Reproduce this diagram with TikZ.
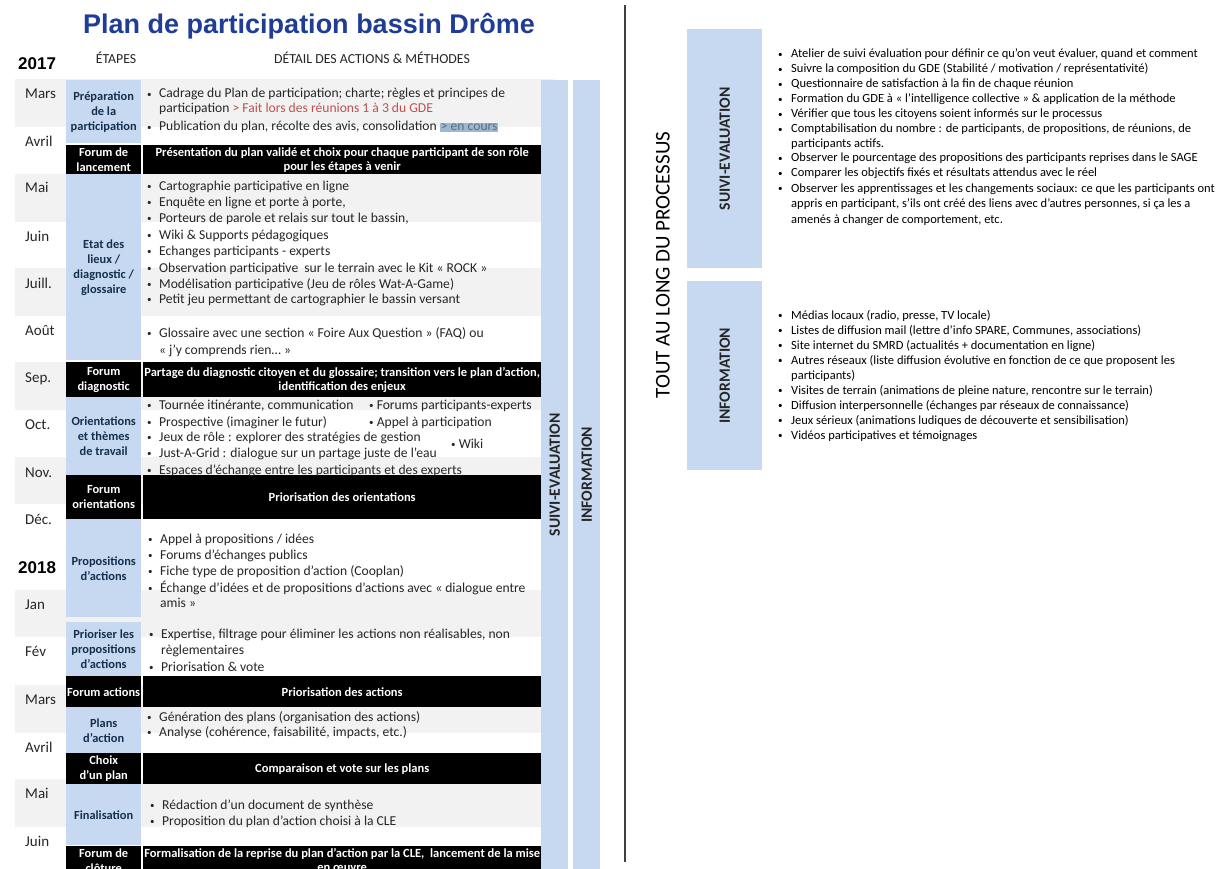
\documentclass[tikz,border=0pt]{standalone}
\usepackage{fontspec}
\setmainfont{Carlito}
\newfontfamily\arialf{Liberation Sans}
\definecolor{lblue}{HTML}{C6D9F1}
\definecolor{bandgray}{HTML}{F2F2F2}
\definecolor{titleblue}{HTML}{1F3C96}
\definecolor{etxt}{HTML}{14304F}
\definecolor{dtxt}{HTML}{262626}
\definecolor{redtxt}{HTML}{C0504D}
\definecolor{hlbg}{HTML}{9DB8CF}
\definecolor{hltxt}{HTML}{556F8C}
\definecolor{sepgray}{HTML}{404040}
\newcommand\fsz[2]{\fontsize{#1}{#2}\selectfont}
\newcommand\sbul{\raisebox{0.6pt}{\fontsize{9}{9}\selectfont\textbullet}}
\newcommand\bl{\makebox[12pt][l]{\sbul}}
\newcommand\rbl{\makebox[13pt][l]{\sbul}}
\tikzset{
  etape/.style={fill=lblue, text=etxt, font=\bfseries\fsz{12.4}{15}, align=center, inner sep=0pt, anchor=north west, minimum width=75pt},
  forumE/.style={fill=black, text=white, font=\bfseries\fsz{12.4}{15}, align=center, inner sep=0pt, anchor=north west, minimum width=75pt},
  bar/.style={fill=black, text=white, font=\bfseries\fsz{12.5}{14}, align=center, inner sep=0pt, anchor=north west, minimum width=398pt},
  month/.style={anchor=base west, font=\fsz{15}{17}, text=dtxt, inner sep=0pt},
  year/.style={anchor=base west, font=\arialf\bfseries\fsz{17}{20}, text=black, inner sep=0pt},
  item/.style={anchor=base west, font=\fsz{13.6}{15}, text=dtxt, inner sep=0pt},
  ritem/.style={anchor=base west, font=\fsz{12.5}{14}, text=black, inner sep=0pt},
  col/.style={fill=lblue, draw=none, inner sep=0pt, anchor=north west, minimum width=27pt},
  vtext/.style={rotate=90, font=\bfseries\fsz{15.7}{18}, text=dtxt, inner sep=0pt},
  head/.style={anchor=base, font=\fsz{13.8}{15}, text=dtxt, inner sep=0pt}
}
\begin{document}
\begin{tikzpicture}[x=1pt,y=-1pt]
\useasboundingbox (0,0) rectangle (1222,869);
\clip (0,0) rectangle (1222,869);
\fill[white] (0,0) rectangle (1222,869);

% title and headers
\node[font=\arialf\bfseries\fsz{27}{30}, text=titleblue, anchor=base, inner sep=0pt] (title) at (309,34) {Plan de participation bassin Drôme};
\node[year] (y2017) at (18,70) {2017};
\node[head] (hetapes) at (116,64) {ÉTAPES};
\node[head] (hdetail) at (372,64) {DÉTAIL DES ACTIONS \& MÉTHODES};

% month bands
\foreach \a/\b in {79/127,174/222,268/316,362/410,457/504,590/637,685/733,779/827}
  \fill[bandgray] (15,\a) rectangle (555,\b);

% long columns
\node[col, minimum height=789pt] (suivicol) at (541,80) {};
\node[col, minimum height=789pt] (infocol) at (573,80) {};
\node[vtext] (suivilbl) at (suivicol.center) {SUIVI-EVALUATION};
\node[vtext] (infolbl) at (infocol.center) {INFORMATION};

% months
\foreach \t/\y [count=\i] in {Mars/99, Avril/147, Mai/193, Juin/241, Juill./288, Août/335, Sep./382, Oct./429, Nov./477, Déc./524, Jan/609, Fév/656, Mars/704, Avril/752, Mai/798, Juin/846}
  \node[month] (m\i) at (25,\y) {\t};
\node[year] (y2018) at (18,573) {2018};

% etapes
\node[etape, minimum height=63pt] (prep) at (66,80) {Préparation\\de la\\participation};
\node[forumE, minimum height=29pt] (flanc) at (66,145) {Forum de\\lancement};
\node[bar, minimum height=29pt] (blanc) at (143,145) {Présentation du plan validé et choix pour chaque participant de son rôle\\pour les étapes à venir};
\node[etape, minimum height=186pt] (etat) at (66,174) {Etat des\\lieux /\\diagnostic /\\glossaire};
\node[forumE, minimum height=35pt] (fdiag) at (66,362) {Forum\\diagnostic};
\node[bar, minimum height=35pt] (bdiag) at (143,362) {Partage du diagnostic citoyen et du glossaire; transition vers le plan d’action,\\identification des enjeux};
\node[etape, minimum height=78pt] (orient) at (66,397) {Orientations\\et thèmes\\de travail};
\node[forumE, minimum height=44pt] (fori) at (66,475) {Forum\\orientations};
\node[bar, minimum height=44pt] (bori) at (143,475) {Priorisation des orientations};
\node[etape, minimum height=98pt] (props) at (66,519) {Propositions\\d’actions};
\node[etape, minimum height=54pt] (prio) at (66,622) {Prioriser les\\propositions\\d’actions};
\node[forumE, minimum height=31pt] (fact) at (66,676) {Forum actions};
\node[bar, minimum height=31pt] (bact) at (143,676) {Priorisation des actions};
\node[etape, minimum height=46pt] (plans) at (66,707) {Plans\\d’action};
\node[forumE, minimum height=31pt] (choix) at (66,753) {Choix\\d’un plan};
\node[bar, minimum height=31pt] (bchoix) at (143,753) {Comparaison et vote sur les plans};
\node[etape, minimum height=61pt] (final) at (66,784) {Finalisation};
\node[forumE, minimum height=28pt] (fclot) at (66,846) {Forum de\\clôture};
\node[bar, minimum height=28pt] (bclot) at (143,846) {Formalisation de la reprise du plan d’action par la CLE,\ \ lancement de la mise\\en œuvre};

% details: preparation
\node[item] (p1) at (147,98) {\bl Cadrage du Plan de participation; charte; règles et principes de};
\node[item] (p1b) at (159,113) {participation {\color{redtxt}> Fait lors des réunions 1 à 3 du GDE}};
\node[item] (p2) at (147,131) {\bl Publication du plan, récolte des avis, consolidation {\setlength\fboxsep{1pt}\colorbox{hlbg}{\color{hltxt}> en cours}}};

% details: etat des lieux
\node[item] (e1) at (147,190) {\bl Cartographie participative en ligne};
\node[item] (e2) at (147,206) {\bl Enquête en ligne et porte à porte,};
\node[item] (e3) at (147,222) {\bl Porteurs de parole et relais sur tout le bassin,};
\node[item] (e4) at (147,239) {\bl Wiki \& Supports pédagogiques};
\node[item] (e5) at (147,255) {\bl Echanges participants - experts};
\node[item] (e6) at (147,272) {\bl Observation participative\ \ sur le terrain avec le Kit « ROCK »};
\node[item] (e7) at (147,288) {\bl Modélisation participative (Jeu de rôles Wat-A-Game)};
\node[item] (e8) at (147,303) {\bl Petit jeu permettant de cartographier le bassin versant};
\node[item] (e9) at (147,337) {\bl Glossaire avec une section « Foire Aux Question » (FAQ) ou};
\node[item] (e9b) at (159,354) {« j’y comprends rien… »};

% details: orientations
\node[item] (o1) at (147,409) {\bl Tournée itinérante, communication};
\node[item] (o2) at (147,426) {\bl Prospective (imaginer le futur)};
\node[item] (o3) at (147,441) {\bl Jeux de rôle : explorer des stratégies de gestion};
\node[item] (o4) at (147,457) {\bl Just-A-Grid : dialogue sur un partage juste de l’eau};
\node[item] (o5) at (147,474) {\bl Espaces d’échange entre les participants et des experts};
\node[item] (o6) at (369,409) {\sbul\ Forums participants-experts};
\node[item] (o7) at (369,426) {\sbul\ Appel à participation};
\node[item] (o8) at (451,448) {\sbul\ Wiki};

% details: propositions
\node[item] (q1) at (148,543) {\bl Appel à propositions / idées};
\node[item] (q2) at (148,559) {\bl Forums d’échanges publics};
\node[item] (q3) at (148,575) {\bl Fiche type de proposition d’action (Cooplan)};
\node[item] (q4) at (148,592) {\bl Échange d’idées et de propositions d’actions avec « dialogue entre};
\node[item] (q4b) at (160,607) {amis »};

% details: prioriser
\node[item] (r1) at (149,638) {\bl Expertise, filtrage pour éliminer les actions non réalisables, non};
\node[item] (r1b) at (161,654) {règlementaires};
\node[item] (r2) at (149,671) {\bl Priorisation \& vote};

% details: plans
\node[item] (s1) at (147,721) {\bl Génération des plans (organisation des actions)};
\node[item] (s2) at (147,736) {\bl Analyse (cohérence, faisabilité, impacts, etc.)};

% details: finalisation
\node[item] (f1) at (150,809) {\bl Rédaction d’un document de synthèse};
\node[item] (f2) at (150,825) {\bl Proposition du plan d’action choisi à la CLE};

% separator
\draw[sepgray, line width=1.2pt] (625,5) -- (625,862);

% right panel
\node[rotate=90, font=\fsz{21}{24}, text=black, inner sep=0pt] (tout) at (663,265) {TOUT AU LONG DU PROCESSUS};
\node[fill=lblue, inner sep=0pt, anchor=north west, minimum width=75pt, minimum height=239pt] (rsuivi) at (687,29) {};
\node[vtext] (rsuivilbl) at (rsuivi.center) {SUIVI-EVALUATION};
\node[fill=lblue, inner sep=0pt, anchor=north west, minimum width=75pt, minimum height=189pt] (rinfo) at (687,281) {};
\node[vtext] (rinfolbl) at (rinfo.center) {INFORMATION};

\node[ritem] (a1) at (778,58) {\rbl Atelier de suivi évaluation pour définir ce qu’on veut évaluer, quand et comment};
\node[ritem] (a2) at (778,73) {\rbl Suivre la composition du GDE (Stabilité / motivation / représentativité)};
\node[ritem] (a3) at (778,88) {\rbl Questionnaire de satisfaction à la fin de chaque réunion};
\node[ritem] (a4) at (778,103) {\rbl Formation du GDE à « l’intelligence collective » \& application de la méthode};
\node[ritem] (a5) at (778,118) {\rbl Vérifier que tous les citoyens soient informés sur le processus};
\node[ritem] (a6) at (778,133) {\rbl Comptabilisation du nombre : de participants, de propositions, de réunions, de};
\node[ritem] (a6b) at (791,148) {participants actifs.};
\node[ritem] (a7) at (778,162) {\rbl Observer le pourcentage des propositions des participants reprises dans le SAGE};
\node[ritem] (a8) at (778,177) {\rbl Comparer les objectifs fixés et résultats attendus avec le réel};
\node[ritem] (a9) at (778,192) {\rbl Observer les apprentissages et les changements sociaux: ce que les participants ont};
\node[ritem] (a9b) at (791,207) {appris en participant, s’ils ont créé des liens avec d’autres personnes, si ça les a};
\node[ritem] (a9c) at (791,223) {amenés à changer de comportement, etc.};

\node[ritem] (i1) at (778,319) {\rbl Médias locaux (radio, presse, TV locale)};
\node[ritem] (i2) at (778,334) {\rbl Listes de diffusion mail (lettre d’info SPARE, Communes, associations)};
\node[ritem] (i3) at (778,349) {\rbl Site internet du SMRD (actualités + documentation en ligne)};
\node[ritem] (i4) at (778,364) {\rbl Autres réseaux (liste diffusion évolutive en fonction de ce que proposent les};
\node[ritem] (i4b) at (791,379) {participants)};
\node[ritem] (i5) at (778,394) {\rbl Visites de terrain (animations de pleine nature, rencontre sur le terrain)};
\node[ritem] (i6) at (778,409) {\rbl Diffusion interpersonnelle (échanges par réseaux de connaissance)};
\node[ritem] (i7) at (778,424) {\rbl Jeux sérieux (animations ludiques de découverte et sensibilisation)};
\node[ritem] (i8) at (778,439) {\rbl Vidéos participatives et témoignages};
\end{tikzpicture}
\end{document}
